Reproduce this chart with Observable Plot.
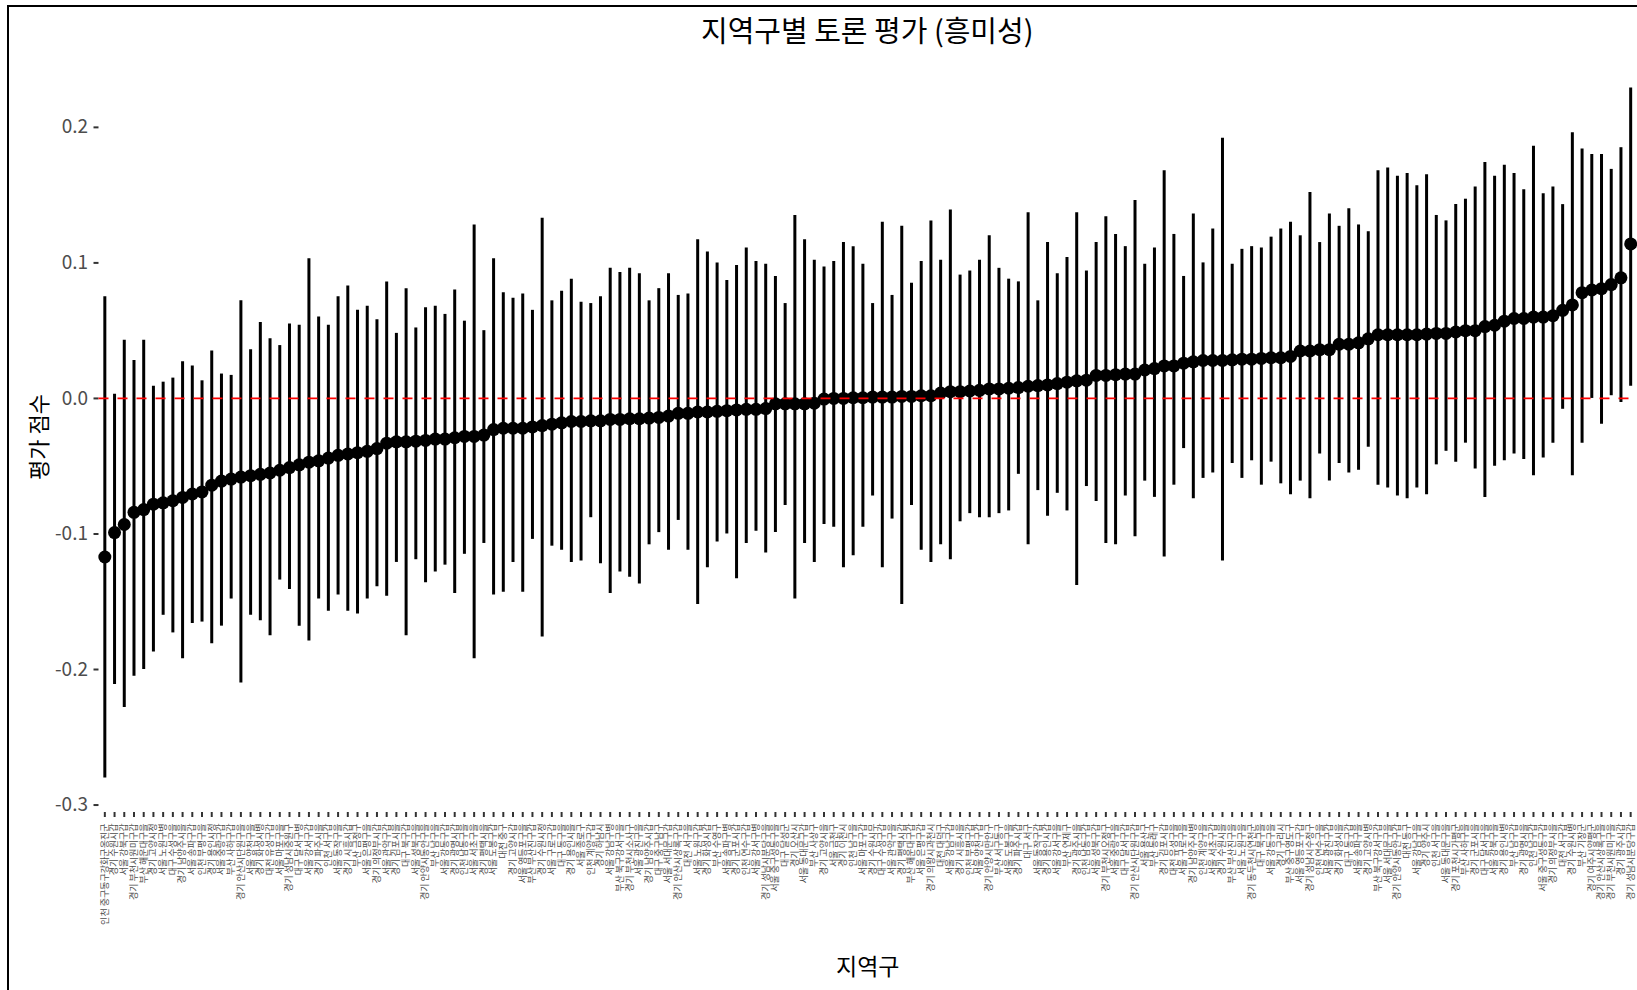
<!DOCTYPE html>
<html>
<head>
<meta charset="utf-8">
<script src="https://cdn.jsdelivr.net/npm/d3@7"></script>
<script src="https://cdn.jsdelivr.net/npm/@observablehq/plot@0.6"></script>
<style>
  html, body { margin: 0; padding: 0; background: #fff; }
  body { font-family: "Noto Sans CJK KR", "Noto Sans", sans-serif; }
  #wrap { position: relative; width: 1637px; height: 990px; overflow: hidden; }
  #frame { position: absolute; left: 7px; top: 5px; width: 1700px; height: 1100px;
           border-left: 2px solid #000; border-top: 2px solid #000; box-sizing: border-box; }
  #title { position: relative; height: 48px; width: 1637px; }
  #title span { position: absolute; left: 98.5px; width: 1537.5px; top: 29px; transform: translateY(-50%);
                text-align: center; font-size: 29px; color: #000; white-space: nowrap; }
  #ylab { position: absolute; left: 37px; top: 437px; transform: translate(-50%, -50%) rotate(-90deg);
          font-size: 22px; color: #000; white-space: nowrap; }
  #chart { position: relative; }
</style>
</head>
<body>
<div id="wrap">
  <div id="frame"></div>
  <div id="title"><span>지역구별 토론 평가 (흥미성)</span></div>
  <div id="chart"></div>
  <div id="ylab">평가 점수</div>
</div>
<script>
const districts = [
"인천 중구동구강화군옹진군","경기 수원시갑","서울 강북구갑","경기 부천시원미구갑","부산 해운대구을","경기 고양시정","서울 노원구병","대구 수성구을","경기 남양주시을","서울 송파구갑",
"인천 부평구을","경기 용인시정","서울 중랑구갑","부산 사하구갑","경기 안산시단원구을","서울 양천구을","경기 화성시병","대전 유성구갑","서울 마포구을","경기 성남시중원구",
"대구 달서구병","서울 강서구갑","경기 파주시을","인천 서구갑","서울 동작구을","경기 시흥시갑","부산 금정구","서울 은평구을","경기 의정부시갑","서울 관악구갑",
"경기 김포시을","대구 북구갑","서울 성북구을","경기 안양시동안구을","부산 남구을","서울 강동구갑","경기 광명시갑","인천 남동구을","서울 서초구을","경기 평택시을",
"서울 도봉구갑","대전 중구","경기 고양시갑","서울 영등포구을","부산 부산진구갑","경기 수원시정","서울 구로구갑","대구 동구을","경기 용인시을","서울 종로구",
"인천 계양구갑","경기 하남시","서울 강남구병","부산 북구강서구을","경기 부천시소사구","서울 광진구을","경기 남양주시갑","대구 중구남구","서울 서대문구갑","경기 안산시상록구갑",
"대전 서구을","서울 노원구갑","경기 화성시갑","부산 수영구","서울 송파구병","경기 군포시갑","인천 연수구갑","서울 강서구병","경기 성남시분당구을","서울 중구성동구을",
"대구 달성군","경기 오산시","서울 동대문구갑","부산 사상구","경기 고양시을","서울 금천구","경기 이천시","인천 남구을","서울 마포구갑","경기 수원시무",
"대구 수성구갑","서울 관악구을","경기 평택시갑","부산 해운대구갑","서울 은평구갑","경기 의왕시과천시","대전 대덕구","서울 강남구갑","경기 시흥시을","인천 부평구갑",
"서울 양천구갑","경기 안양시만안구","부산 서구동구","서울 도봉구을","경기 파주시갑","대구 서구","서울 동작구갑","경기 용인시갑","서울 강서구을","부산 연제구",
"경기 광주시을","인천 남동구갑","서울 성북구갑","경기 부천시오정구","서울 중랑구을","대구 달서구갑","경기 안산시단원구갑","서울 용산구","부산 동래구","경기 김포시갑",
"대전 유성구을","서울 구로구을","경기 남양주시병","인천 계양구을","서울 서초구갑","경기 수원시을","부산 부산진구을","서울 노원구을","경기 동두천시연천군","대구 북구을",
"서울 강동구을","경기 구리시","부산 중구영도구","서울 영등포구갑","경기 성남시수정구","인천 연수구을","서울 광진구갑","경기 화성시을","대구 동구갑","서울 송파구을",
"경기 고양시병","부산 북구강서구갑","서울 서대문구을","경기 안양시동안구갑","대전 동구","서울 강남구을","경기 양주시","인천 서구을","서울 동대문구을","경기 포천시가평군",
"부산 사하구을","경기 군포시을","대구 달서구을","서울 강북구을","경기 용인시병","부산 남구갑","경기 광명시을","인천 남구갑","서울 중구성동구갑","경기 의정부시을",
"대전 서구갑","경기 수원시병","부산 기장군","경기 여주시양평군","경기 안산시상록구을","경기 부천시원미구을","경기 광주시갑","경기 성남시분당구갑"
];

const means = [
-0.117,-0.099,-0.093,-0.084,-0.082,-0.078,-0.077,-0.0755,-0.073,-0.0705,
-0.069,-0.064,-0.061,-0.0595,-0.058,-0.057,-0.056,-0.055,-0.053,-0.051,
-0.049,-0.047,-0.046,-0.044,-0.042,-0.041,-0.040,-0.039,-0.037,-0.033,
-0.032,-0.032,-0.0315,-0.031,-0.030,-0.030,-0.029,-0.028,-0.028,-0.027,
-0.023,-0.022,-0.022,-0.022,-0.021,-0.020,-0.019,-0.018,-0.017,-0.017,
-0.0165,-0.0165,-0.0155,-0.0155,-0.015,-0.015,-0.0145,-0.014,-0.013,-0.011,
-0.011,-0.010,-0.010,-0.0095,-0.009,-0.0085,-0.008,-0.008,-0.0075,-0.004,
-0.004,-0.004,-0.004,-0.0035,-0.0005,0.000,0.000,0.0005,0.0005,0.001,
0.001,0.001,0.0015,0.0015,0.002,0.002,0.004,0.005,0.005,0.0055,
0.006,0.007,0.007,0.0075,0.008,0.009,0.0095,0.010,0.011,0.012,
0.013,0.0135,0.017,0.017,0.0175,0.018,0.018,0.021,0.022,0.024,
0.024,0.026,0.027,0.028,0.028,0.028,0.0285,0.029,0.029,0.0295,
0.030,0.030,0.031,0.035,0.035,0.036,0.036,0.040,0.040,0.041,
0.044,0.047,0.047,0.047,0.047,0.047,0.0475,0.048,0.048,0.049,
0.050,0.050,0.053,0.054,0.057,0.059,0.059,0.060,0.060,0.061,
0.065,0.069,0.078,0.080,0.081,0.084,0.089,0.114
];

const lows = [
-0.280,-0.211,-0.228,-0.205,-0.200,-0.187,-0.160,-0.173,-0.192,-0.166,
-0.165,-0.181,-0.168,-0.148,-0.210,-0.160,-0.164,-0.175,-0.134,-0.141,
-0.168,-0.179,-0.148,-0.157,-0.145,-0.157,-0.159,-0.148,-0.139,-0.146,
-0.121,-0.175,-0.119,-0.136,-0.128,-0.123,-0.144,-0.115,-0.192,-0.107,
-0.145,-0.143,-0.121,-0.143,-0.104,-0.176,-0.109,-0.112,-0.121,-0.120,
-0.088,-0.122,-0.144,-0.128,-0.132,-0.137,-0.108,-0.099,-0.112,-0.090,
-0.112,-0.152,-0.125,-0.106,-0.100,-0.133,-0.107,-0.098,-0.114,-0.099,
-0.079,-0.148,-0.107,-0.121,-0.093,-0.095,-0.125,-0.116,-0.095,-0.072,
-0.125,-0.089,-0.152,-0.079,-0.112,-0.121,-0.108,-0.119,-0.091,-0.085,
-0.088,-0.088,-0.085,-0.083,-0.056,-0.108,-0.068,-0.087,-0.070,-0.083,
-0.138,-0.065,-0.076,-0.107,-0.108,-0.072,-0.102,-0.061,-0.073,-0.117,
-0.064,-0.037,-0.074,-0.059,-0.055,-0.120,-0.048,-0.059,-0.046,-0.064,
-0.047,-0.063,-0.071,-0.061,-0.074,-0.041,-0.061,-0.048,-0.055,-0.053,
-0.036,-0.064,-0.066,-0.072,-0.074,-0.066,-0.071,-0.049,-0.039,-0.047,
-0.033,-0.052,-0.073,-0.050,-0.046,-0.041,-0.045,-0.057,-0.044,-0.033,
-0.008,-0.057,-0.033,0.000,-0.019,0.002,-0.003,0.009
];

const highs = [
0.075,0.003,0.043,0.028,0.043,0.009,0.012,0.015,0.027,0.024,
0.013,0.035,0.018,0.017,0.072,0.036,0.056,0.044,0.039,0.055,
0.054,0.103,0.060,0.054,0.075,0.083,0.065,0.068,0.058,0.086,
0.048,0.081,0.052,0.067,0.068,0.062,0.080,0.057,0.128,0.050,
0.103,0.078,0.074,0.077,0.065,0.133,0.072,0.079,0.088,0.071,
0.070,0.075,0.096,0.093,0.096,0.092,0.072,0.081,0.092,0.076,
0.077,0.117,0.108,0.100,0.087,0.098,0.111,0.101,0.099,0.090,
0.070,0.135,0.117,0.102,0.097,0.101,0.115,0.112,0.099,0.070,
0.130,0.076,0.127,0.085,0.101,0.131,0.102,0.139,0.091,0.094,
0.102,0.120,0.096,0.088,0.086,0.137,0.072,0.115,0.092,0.104,
0.137,0.094,0.115,0.134,0.121,0.112,0.146,0.099,0.111,0.168,
0.121,0.090,0.136,0.100,0.125,0.192,0.099,0.110,0.112,0.111,
0.119,0.125,0.130,0.120,0.152,0.115,0.136,0.127,0.140,0.128,
0.123,0.168,0.170,0.164,0.166,0.157,0.165,0.135,0.131,0.143,
0.147,0.156,0.174,0.164,0.172,0.166,0.154,0.186,0.151,0.156,
0.143,0.196,0.184,0.180,0.180,0.169,0.185,0.229
];

const yTicks = [-0.3, -0.2, -0.1, 0.0, 0.1, 0.2];

const rows = districts.map((name, i) => ({name, mean: means[i], lo: lows[i], hi: highs[i]}));

const chart = Plot.plot({
  width: 1637,
  height: 942,
  marginTop: 5,
  marginBottom: 178,
  marginLeft: 98.5,
  marginRight: 1,
  style: {fontFamily: "'Noto Sans CJK KR', 'Noto Sans', sans-serif", background: "transparent"},
  x: {type: "point", domain: districts, padding: 0.6, label: null},
  y: {domain: [-0.3055, 0.2545], label: null},
  marks: [
    Plot.axisY({ticks: yTicks, tickFormat: d => d.toFixed(1), tickSize: 5, tickPadding: 6,
                fontSize: 19, fill: "#4D4D4D", stroke: "#333333", strokeWidth: 2, label: null}),
    Plot.axisX({tickRotate: -90, fontSize: 9, tickSize: 5, tickPadding: 6,
                fill: "#4D4D4D", stroke: "#333333", strokeWidth: 2, label: null}),
    Plot.ruleX(rows, {x: "name", y1: "lo", y2: "hi", stroke: "#000", strokeWidth: 3}),
    Plot.dot(rows, {x: "name", y: "mean", r: 6.5, fill: "#000", stroke: "none"}),
    Plot.ruleY([0], {stroke: "#FF0000", strokeWidth: 1.8, strokeDasharray: "10,9"}),
    Plot.text(["지역구"], {text: d => d, frameAnchor: "bottom", dy: 162, fontSize: 23, fill: "#000"})
  ]
});
document.getElementById("chart").appendChild(chart);
</script>
</body>
</html>
